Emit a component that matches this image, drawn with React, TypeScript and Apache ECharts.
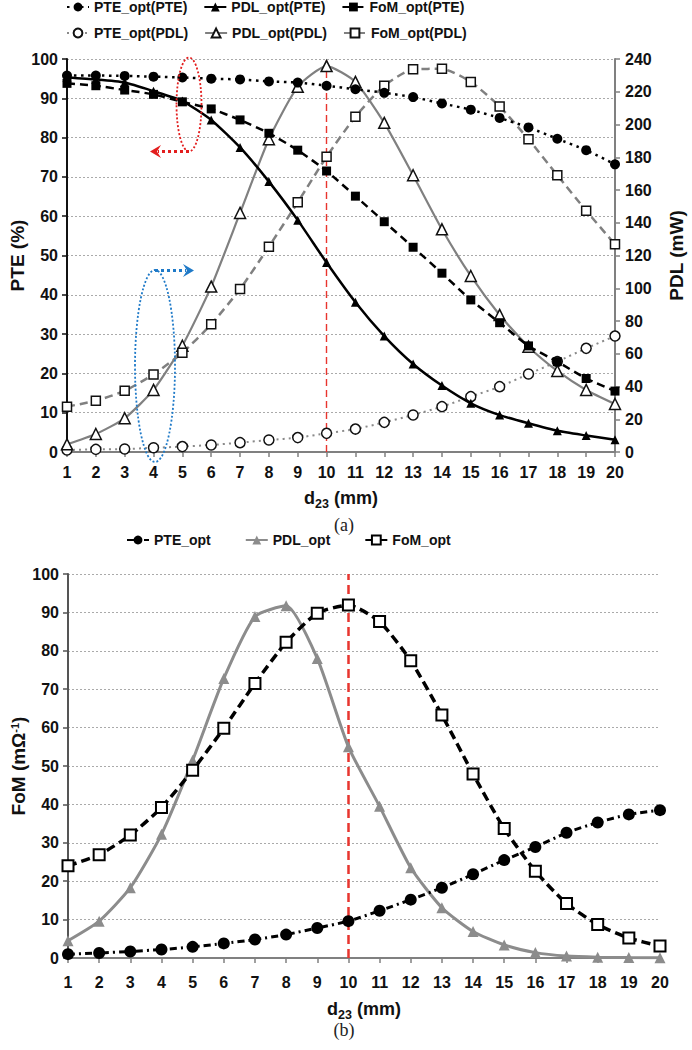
import React, { useEffect, useRef } from 'react';
import * as echarts from 'echarts';

const D23 = ['1','2','3','4','5','6','7','8','9','10','11','12','13','14','15','16','17','18','19','20'];

// Chart (a) — left axis PTE (%)
const A_PTE_PTE = [95.8,95.8,95.7,95.5,95.3,95.0,94.8,94.3,94.0,93.2,92.3,91.4,90.3,88.7,87.1,85.0,82.6,79.7,76.8,73.2];
const A_PDL_PTE = [95.3,94.8,94.0,91.8,89.3,84.5,77.5,68.8,59.0,48.2,38.1,29.5,22.4,16.9,12.4,9.4,7.3,5.4,4.2,3.1];
const A_FOM_PTE = [93.8,93.2,92.1,91.0,89.1,87.3,84.5,81.1,76.8,71.5,65.1,58.6,52.1,45.5,38.7,32.9,27.0,23.0,18.7,15.5];
// Chart (a) — right axis PDL (mW)
const A_PTE_PDL = [1.2,1.6,1.8,2.6,3.3,4.3,5.7,7.3,8.8,11.4,14.0,18.1,22.6,27.7,33.8,39.9,47.6,55.2,63.3,70.8];
const A_PDL_PDL = [4.7,11.0,20.6,37.9,64.9,101,146,191,223,235.7,226,201,169,136,107.5,83.7,64.3,49.5,37.9,29.3];
const A_FOM_PDL = [27.7,31.3,37.4,47.4,60.6,78,99.5,125.4,152.5,180.3,204.8,223.7,233.7,234,226,211,191,169,147.4,126.8];
// Chart (b) — FoM (mΩ^-1)
const B_PTE = [1.0,1.3,1.7,2.2,2.9,3.8,4.8,6.1,7.8,9.6,12.3,15.2,18.3,21.8,25.5,28.9,32.6,35.3,37.4,38.5];
const B_PDL = [4.5,9.6,18.3,32.2,51.5,72.8,88.9,91.7,78.0,55.0,39.5,23.5,13.1,6.9,3.4,1.4,0.5,0.2,0.1,0.05];
const B_FOM = [24.0,26.9,32.0,39.2,48.9,59.8,71.5,82.2,89.8,91.9,87.6,77.4,63.3,47.9,33.7,22.6,14.2,8.7,5.2,3.1];

const LEG_A1 = ['PTE_opt(PTE)', 'PDL_opt(PTE)', 'FoM_opt(PTE)'];
const LEG_A2 = ['PTE_opt(PDL)', 'PDL_opt(PDL)', 'FoM_opt(PDL)'];
const LEG_B = ['PTE_opt', 'PDL_opt', 'FoM_opt'];

const FONT = '"Liberation Sans", Arial, sans-serif';
const SERIF = '"Liberation Serif", "DejaVu Serif", serif';
const TXT = '#111';
const GREY = '#808080';

const labelStyle = { fontSize: 16, fontWeight: 'bold' as const, color: TXT, fontFamily: FONT };

function xAxisDef(gridIndex: number, labelMargin: number, nameGap: number) {
  return {
    type: 'category',
    gridIndex,
    data: D23,
    boundaryGap: false,
    axisLine: { show: true, lineStyle: { color: GREY, width: 2 } },
    axisTick: { show: true, length: 5, lineStyle: { color: GREY, width: 1.5 } },
    axisLabel: { ...labelStyle, margin: labelMargin },
    splitLine: { show: false },
    nameMoveOverlap: false,
    name: '{m|d}{s|23}{m| (mm)}',
    nameLocation: 'middle',
    nameGap,
    nameTextStyle: {
      rich: {
        m: { fontSize: 18, fontWeight: 'bold', color: TXT, fontFamily: FONT, lineHeight: 24 },
        s: { fontSize: 12.5, fontWeight: 'bold', color: TXT, fontFamily: FONT, lineHeight: 10, verticalAlign: 'bottom' },
      },
    },
  };
}

function line(name: string, data: number[], o: any) {
  return {
    type: 'line',
    name,
    data,
    smooth: 0.2,
    xAxisIndex: o.xi,
    yAxisIndex: o.yi,
    symbol: o.symbol,
    symbolSize: o.size,
    showSymbol: true,
    itemStyle: o.item,
    lineStyle: o.line,
    z: o.z ?? 2,
    emphasis: { disabled: true },
    markLine: o.markLine,
  };
}

const redLine = (width: number, dash: number[]) => ({
  silent: true,
  symbol: ['none', 'none'],
  label: { show: false },
  lineStyle: { color: '#e8352e', width, type: dash },
  data: [{ xAxis: 9 }],
  z: 1,
});

const legendText = { fontSize: 14, fontWeight: 'bold', color: TXT, fontFamily: FONT };

const option: any = {
  animation: false,
  backgroundColor: '#fff',
  textStyle: { fontFamily: FONT },
  grid: [
    { left: 67, right: 77, top: 59, height: 393, outerBoundsMode: 'none', containLabel: false },
    { left: 68, right: 32, top: 574, height: 384, outerBoundsMode: 'none', containLabel: false },
  ],
  legend: [
    { data: LEG_A1, left: 66, top: 0, padding: 0, itemGap: 16, itemWidth: 22, itemHeight: 11, selectedMode: false, textStyle: legendText },
    { data: LEG_A2, left: 66, top: 26, padding: 0, itemGap: 16, itemWidth: 22, itemHeight: 11, selectedMode: false, textStyle: legendText },
    { data: LEG_B, left: 126, top: 533, padding: 0, itemGap: 34, itemWidth: 22, itemHeight: 11, selectedMode: false, textStyle: legendText },
  ],
  xAxis: [xAxisDef(0, 12, 34), xAxisDef(1, 16, 39)],
  yAxis: [
    {
      type: 'value', gridIndex: 0, min: 0, max: 100, interval: 10, position: 'left',
      axisLine: { show: true, lineStyle: { color: '#111', width: 2 } },
      axisTick: { show: true, length: 5, lineStyle: { color: '#111', width: 1.5 } },
      axisLabel: { ...labelStyle, margin: 9 },
      splitLine: { show: true, lineStyle: { color: '#aaa', type: [2, 2], width: 1 } },
      name: 'PTE (%)', nameLocation: 'middle', nameGap: 40, nameRotate: 90, nameMoveOverlap: false,
      nameTextStyle: { fontSize: 19, fontWeight: 'bold', color: TXT, fontFamily: FONT },
    },
    {
      type: 'value', gridIndex: 0, min: 0, max: 240, interval: 20, position: 'right',
      axisLine: { show: true, lineStyle: { color: GREY, width: 2 } },
      axisTick: { show: true, length: 5, lineStyle: { color: GREY, width: 1.5 } },
      axisLabel: { ...labelStyle, margin: 10 },
      splitLine: { show: false },
      name: 'PDL (mW)', nameLocation: 'middle', nameGap: 52, nameRotate: 90, nameMoveOverlap: false,
      nameTextStyle: { fontSize: 19, fontWeight: 'bold', color: TXT, fontFamily: FONT },
    },
    {
      type: 'value', gridIndex: 1, min: 0, max: 100, interval: 10, position: 'left',
      axisLine: { show: true, lineStyle: { color: '#555', width: 2 } },
      axisTick: { show: true, length: 5, lineStyle: { color: '#555', width: 1.5 } },
      axisLabel: { ...labelStyle, margin: 9 },
      splitLine: { show: true, lineStyle: { color: '#aaa', type: [2, 2], width: 1 } },
      name: 'FoM (mΩ{sup|-1})', nameLocation: 'middle', nameGap: 40, nameRotate: 90, nameMoveOverlap: false,
      nameTextStyle: {
        fontSize: 19, fontWeight: 'bold', color: TXT, fontFamily: FONT,
        rich: { sup: { fontSize: 11, fontWeight: 'bold', color: TXT, fontFamily: FONT, verticalAlign: 'top', lineHeight: 10 } },
      },
    },
  ],
  series: [
    // (a) grey / PDL axis
    line('PTE_opt(PDL)', A_PTE_PDL, { xi: 0, yi: 1, symbol: 'circle', size: 10,
      item: { color: '#fff', borderColor: '#111', borderWidth: 1.5 },
      line: { color: '#8a8a8a', width: 2, type: [2, 4] } }),
    line('PDL_opt(PDL)', A_PDL_PDL, { xi: 0, yi: 1, symbol: 'triangle', size: 11,
      item: { color: '#fff', borderColor: '#111', borderWidth: 1.5 },
      line: { color: GREY, width: 2.2, type: 'solid' },
      markLine: redLine(1.4, [7, 4]) }),
    line('FoM_opt(PDL)', A_FOM_PDL, { xi: 0, yi: 1, symbol: 'rect', size: 9,
      item: { color: '#fff', borderColor: '#111', borderWidth: 1.5 },
      line: { color: GREY, width: 2.5, type: [8, 5] } }),
    // (a) black / PTE axis
    line('PTE_opt(PTE)', A_PTE_PTE, { xi: 0, yi: 0, symbol: 'circle', size: 10,
      item: { color: '#000' },
      line: { color: '#000', width: 2.5, type: [2.5, 4.5] }, z: 3 }),
    line('PDL_opt(PTE)', A_PDL_PTE, { xi: 0, yi: 0, symbol: 'triangle', size: 9,
      item: { color: '#000' },
      line: { color: '#000', width: 2.5, type: 'solid' }, z: 3 }),
    line('FoM_opt(PTE)', A_FOM_PTE, { xi: 0, yi: 0, symbol: 'rect', size: 9,
      item: { color: '#000' },
      line: { color: '#000', width: 2.5, type: [8, 5] }, z: 3 }),
    // (b)
    line('PTE_opt', B_PTE, { xi: 1, yi: 2, symbol: 'circle', size: 12,
      item: { color: '#000' },
      line: { color: '#000', width: 3, type: [7, 4, 2, 4] }, z: 3,
      markLine: redLine(2.5, [9, 5]) }),
    line('PDL_opt', B_PDL, { xi: 1, yi: 2, symbol: 'triangle', size: 11,
      item: { color: '#8c8c8c' },
      line: { color: '#8c8c8c', width: 3, type: 'solid' } }),
    line('FoM_opt', B_FOM, { xi: 1, yi: 2, symbol: 'rect', size: 11,
      item: { color: '#fff', borderColor: '#000', borderWidth: 2 },
      line: { color: '#000', width: 3.5, type: [9, 5] }, z: 3 }),
  ],
  graphic: [
    // red dotted ellipse + arrow to the left axis
    { type: 'ellipse', shape: { cx: 189, cy: 104.5, rx: 12.5, ry: 47 }, silent: true, z: 10,
      style: { fill: 'none', stroke: '#e31e1e', lineWidth: 1.8, lineDash: [2, 2] } },
    { type: 'polyline', shape: { points: [[189, 151.5], [158, 151.5]] }, silent: true, z: 10,
      style: { fill: 'none', stroke: '#e31e1e', lineWidth: 3, lineDash: [3, 3] } },
    { type: 'polygon', shape: { points: [[150, 151.5], [161, 145], [157, 151.5], [161, 158]] }, silent: true, z: 10,
      style: { fill: '#e31e1e' } },
    // blue dotted ellipse + arrow to the right axis
    { type: 'ellipse', shape: { cx: 155, cy: 366, rx: 20, ry: 96 }, silent: true, z: 10,
      style: { fill: 'none', stroke: '#1f7ac8', lineWidth: 1.8, lineDash: [2, 2] } },
    { type: 'polyline', shape: { points: [[155, 270.5], [186, 270.5]] }, silent: true, z: 10,
      style: { fill: 'none', stroke: '#1f7ac8', lineWidth: 3, lineDash: [3, 3] } },
    { type: 'polygon', shape: { points: [[194, 270.5], [183, 264], [187, 270.5], [183, 277]] }, silent: true, z: 10,
      style: { fill: '#1f7ac8' } },
    // captions
    { type: 'text', x: 344, y: 525, silent: true,
      style: { text: '(a)', fontSize: 18, fontFamily: SERIF, fill: '#222', align: 'center', verticalAlign: 'middle' } },
    { type: 'text', x: 344, y: 1030, silent: true,
      style: { text: '(b)', fontSize: 18, fontFamily: SERIF, fill: '#222', align: 'center', verticalAlign: 'middle' } },
  ],
};

export default function App() {
  const ref = useRef<HTMLDivElement>(null);
  useEffect(() => {
    document.body.style.margin = '0';
    const chart = echarts.init(ref.current!, null, { renderer: 'svg' });
    chart.setOption(option);
    return () => chart.dispose();
  }, []);
  return <div ref={ref} style={{ width: 692, height: 1050, background: '#fff' }} />;
}
